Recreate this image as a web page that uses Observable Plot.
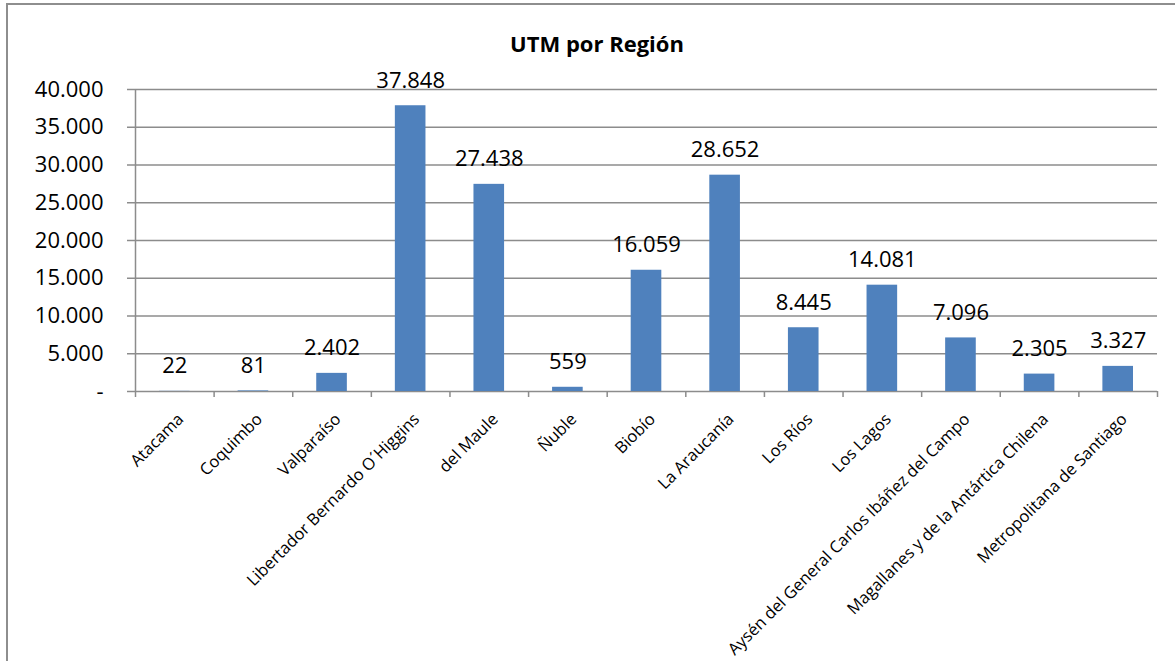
<!DOCTYPE html>
<html><head><meta charset="utf-8">
<script src="https://cdn.jsdelivr.net/npm/d3@7"></script>
<script src="https://cdn.jsdelivr.net/npm/@observablehq/plot@0.6"></script>
<style>
body{margin:0;background:#fff;font-family:"Open Sans",sans-serif;}
#wrap{position:relative;width:1175px;height:661px;overflow:hidden;}
#frame{position:absolute;left:6px;top:3px;width:1300px;height:800px;border:2px solid #8e8e8e;box-sizing:border-box;}
#title{position:absolute;left:0;width:1194px;top:28px;text-align:center;font-weight:bold;font-size:22px;color:#000;}
#chart{position:absolute;left:0;top:0;}
</style></head>
<body>
<div id="wrap">
  <div id="frame"></div>
  <div id="chart"></div>
  <div id="title">UTM por Región</div>
</div>
<script>
const regiones = ["Atacama","Coquimbo","Valparaíso","Libertador Bernardo O´Higgins","del Maule","Ñuble","Biobío","La Araucanía","Los Ríos","Los Lagos","Aysén del General Carlos Ibáñez del Campo","Magallanes y de la Antártica Chilena","Metropolitana de Santiago"];
const utm = [22, 81, 2402, 37848, 27438, 559, 16059, 28652, 8445, 14081, 7096, 2305, 3327];
const yTicks = [0, 5000, 10000, 15000, 20000, 25000, 30000, 35000, 40000];

const loc = d3.formatLocale({decimal: ",", thousands: ".", grouping: [3], currency: ["$", ""]});
const fmtN = loc.format(",d");
const fmtY = d => d === 0 ? "-" : fmtN(d);

const data = regiones.map((r, i) => ({r, i, v: utm[i]}));
const bounds = d3.range(regiones.length + 1);

const chart = Plot.plot({
  width: 1175, height: 661,
  marginLeft: 135, marginRight: 18, marginTop: 89, marginBottom: 270,
  x: {domain: [0, regiones.length], axis: null},
  y: {domain: [0, 40000], axis: null},
  style: {fontFamily: "'Open Sans', sans-serif", background: "transparent", color: "#000"},
  marks: [
    Plot.ruleY(yTicks, {stroke: "#8c8c8c", strokeWidth: 1.5}),
    Plot.axisY({ticks: yTicks, tickFormat: fmtY, label: null, tickSize: 8, tickPadding: 24, fontSize: 22, stroke: "#8c8c8c", strokeWidth: 1.5, fill: "#000"}),
    Plot.ruleX([0], {stroke: "#8c8c8c", strokeWidth: 1.5}),
    Plot.axisX({ticks: bounds, tickFormat: () => "", label: null, tickSize: 6, stroke: "#8c8c8c", strokeWidth: 1.5}),
    Plot.rectY(data, {x1: "i", x2: d => d.i + 1, y: "v", fill: "#4f81bd", insetLeft: 24, insetRight: 24}),
    Plot.text(data, {x: d => d.i + 0.5, y: "v", text: d => fmtN(d.v), dy: -25, fontSize: 22, fill: "#000"}),
    Plot.text(data, {x: d => d.i + 0.5, y: 0, text: "r", rotate: -45, textAnchor: "end", lineAnchor: "middle", dx: 6, dy: 25, fontSize: 16.5, fill: "#000"})
  ]
});
document.getElementById("chart").appendChild(chart);
</script>
</body></html>
